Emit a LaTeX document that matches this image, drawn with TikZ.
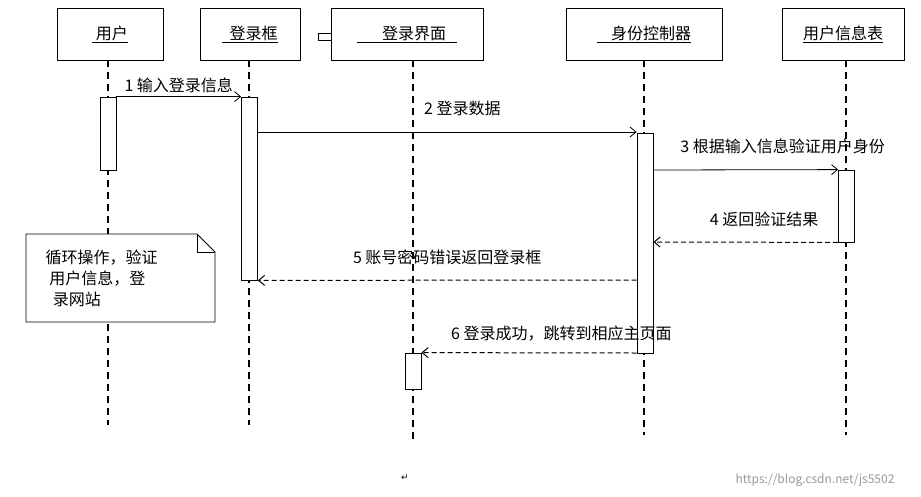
\documentclass[tikz,border=0pt]{standalone}
\usepackage{fontspec}
\setmainfont{Noto Sans CJK SC}
\newfontfamily\symfont{DejaVu Sans}
\usetikzlibrary{arrows.meta}
\tikzset{
 lbl/.style={font=\fontsize{16}{21}\selectfont},
 head/.style={draw,lbl,minimum width=#1,minimum height=52pt,inner sep=0pt},
 life/.style={dashed,dash pattern=on 7pt off 5pt,line width=1.1pt},
 act/.style={draw,fill=white,minimum width=16pt,inner sep=0pt},
 msg/.style={-{Straight Barb[length=6pt,width=10pt]}},
 ret/.style={msg,dashed,dash pattern=on 5pt off 3pt,line width=1pt}
}
\begin{document}
\begin{tikzpicture}[x=1pt,y=-1pt,line width=0.8pt]
\useasboundingbox (0,0) rectangle (921,496);
% heads
\node[head=106pt] (h1) at (110,34) {\underline{\ 用户}};
\node[head=100pt] (h2) at (250,34) {\underline{\ \ 登录框}};
\node[head=152pt] (h3) at (407,34) {\underline{\ \ \ \ \ \ \ 登录界面\ \ \ }};
\draw (318,33) rectangle (331,40);
\node[head=156pt] (h4) at (644,34) {\underline{\ \ \ \ 身份控制器}};
\node[head=122pt] (h5) at (843,34) {\underline{用户信息表}};
% lifelines
\coordinate (e1) at (108,425); \coordinate (e2) at (249,425);
\coordinate (e3) at (413,440); \coordinate (e4) at (644,435);
\coordinate (e5) at (846,435);
\draw[life] (108,60) -- (e1);
\draw[life] (249,60) -- (e2);
\draw[life] (413,60) -- (e3);
\draw[life] (644,60) -- (e4);
\draw[life] (846,60) -- (e5);
% activations
\node[act,minimum height=73pt] (a1) at (108,133.5) {};
\node[act,minimum height=183pt] (a2) at (249.5,188.5) {};
\node[act,minimum height=220pt] (a4) at (645,243) {};
\node[act,minimum height=72pt] (a5) at (846.5,206) {};
\node[act,minimum height=36pt] (a3) at (413,371) {};
% messages
\draw[msg] (a1.north east) -- (a2.north west) node[lbl,midway,above] {1\ 输入登录信息};
\draw[msg] (a2.east |- 0,132) -- (a4.west |- 0,132) node[lbl,pos=0.54,above=12pt] {2\ 登录数据};
\draw[msg] (a4.east |- 0,170) -- (a5.north west) node[lbl,pos=0.7,above=12pt] {3\ 根据输入信息验证用户身份};
\draw[ret] (a5.south west) -- (a4.east |- 0,242) node[lbl,pos=0.4,above=12pt] {4\ 返回验证结果};
\draw[ret] (a4.west |- 0,280) -- (a2.south east) node[lbl,pos=0.5,above=12pt] {5\ 账号密码错误返回登录框};
\draw[ret] (a4.west |- 0,353) -- (a3.north east) node[lbl,pos=0.35,above=8pt] {6\ 登录成功，跳转到相应主页面};
% note
\draw[fill=white] (26,234) -- (197,234) -- (215,252) -- (215,322) -- (26,322) -- cycle;
\draw (197,234) -- (197,252) -- (215,252);
\node[lbl,align=left,anchor=west] (note) at (42,278) {循环操作，验证\\\ 用户信息，登\\\ \ 录网站};
\node[font=\symfont\small] (cr) at (405,478) {↵};
\node[font=\fontsize{12}{14}\selectfont,text=black!40] (url) at (815,480) {https://blog.csdn.net/js5502};
\end{tikzpicture}
\end{document}
